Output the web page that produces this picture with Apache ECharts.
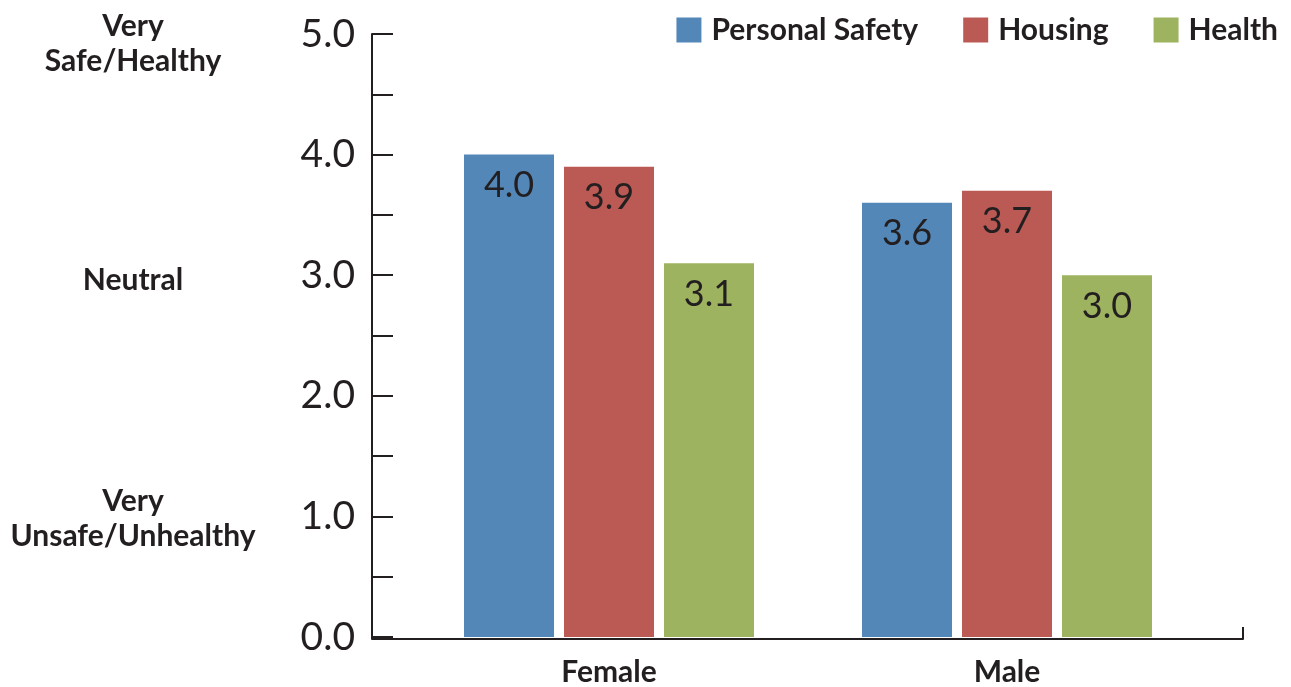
<!DOCTYPE html>
<html>
<head>
<meta charset="utf-8">
<script src="https://cdn.jsdelivr.net/npm/echarts@6/dist/echarts.min.js"></script>
<style>
  html, body { margin: 0; padding: 0; background: #ffffff; }
  #chart { width: 1291px; height: 687px; }
</style>
</head>
<body>
<div id="chart"></div>
<script>
// Survey ratings by gender (1 = very unsafe/unhealthy, 5 = very safe/healthy)
const categories = ['Female', 'Male'];
const seriesNames = ['Personal Safety', 'Housing', 'Health'];
const personalSafety = [4.0, 3.6];
const housing = [3.9, 3.7];
const health = [3.1, 3.0];
const scaleLabels = [
  { text: 'Very\nSafe/Healthy', value: 4.92 },
  { text: 'Neutral', value: 2.96 },
  { text: 'Very\nUnsafe/Unhealthy', value: 0.98 }
];

const colors = ['#5387b8', '#bb5a55', '#9db35f'];
const ink = '#231f20';
const font = 'Lato, "Open Sans", sans-serif';

const chart = echarts.init(document.getElementById('chart'), null, { renderer: 'canvas' });

function makeSeries(name, data, color) {
  return {
    name: name,
    type: 'bar',
    xAxisIndex: 0,
    yAxisIndex: 0,
    data: data,
    barWidth: 90,
    barGap: '11.1%',
    itemStyle: { color: color },
    label: {
      show: true,
      position: 'insideTop',
      distance: 13,
      fontFamily: font,
      fontSize: 36,
      color: ink,
      formatter: p => p.value.toFixed(1)
    }
  };
}

const option = {
  animation: false,
  backgroundColor: '#ffffff',
  color: colors,
  legend: {
    top: 10,
    right: 8,
    itemWidth: 25,
    itemHeight: 25,
    itemGap: 45,
    icon: 'rect',
    textStyle: { fontFamily: font, fontWeight: 'bold', fontSize: 30, color: ink, padding: [0, 0, 0, 5] },
    data: seriesNames
  },
  grid: [
    { left: 410, right: 85, top: 34, bottom: 48 },
    { left: 372, right: 48, top: 34, bottom: 48 }
  ],
  xAxis: [
    {
      type: 'category',
      gridIndex: 0,
      data: categories,
      axisLine: { show: false },
      axisTick: { show: false },
      axisLabel: { fontFamily: font, fontWeight: 'bold', fontSize: 30, color: ink, margin: 20 }
    },
    {
      // full-width baseline with the closing tick at its right end
      type: 'value',
      gridIndex: 1,
      min: 0,
      max: 1,
      interval: 1,
      axisLine: { show: true, lineStyle: { color: ink, width: 2 } },
      axisTick: { show: true, inside: true, length: 12, lineStyle: { color: ink, width: 2 } },
      axisLabel: { show: false },
      splitLine: { show: false }
    }
  ],
  yAxis: [
    {
      type: 'value',
      gridIndex: 0,
      min: 0,
      max: 5,
      interval: 0.5,
      offset: 38,
      axisLine: { show: true, lineStyle: { color: ink, width: 2 } },
      axisTick: { show: true, inside: true, length: 21, lineStyle: { color: ink, width: 2 } },
      axisLabel: {
        fontFamily: font,
        fontSize: 39,
        color: ink,
        margin: 17,
        formatter: v => (Math.abs(v - Math.round(v)) < 1e-9 ? v.toFixed(1) : '')
      },
      splitLine: { show: false }
    },
    {
      type: 'value',
      gridIndex: 1,
      min: 0,
      max: 5,
      show: false
    }
  ],
  series: [
    makeSeries(seriesNames[0], personalSafety, colors[0]),
    makeSeries(seriesNames[1], housing, colors[1]),
    makeSeries(seriesNames[2], health, colors[2])
  ]
};

chart.setOption(option);

// Descriptive scale labels to the left of the value axis, placed through the axis scale
function placeScaleLabels() {
  const elements = scaleLabels.map(s => {
    const pt = chart.convertToPixel({ yAxisIndex: 0 }, s.value);
    return {
      type: 'text',
      x: 133,
      y: pt,
      style: {
        text: s.text,
        fontFamily: font,
        fontWeight: 'bold',
        fontSize: 30,
        lineHeight: 35,
        fill: ink,
        align: 'center',
        verticalAlign: 'middle'
      }
    };
  });
  chart.setOption({ graphic: { elements: elements } });
}
placeScaleLabels();
</script>
</body>
</html>
